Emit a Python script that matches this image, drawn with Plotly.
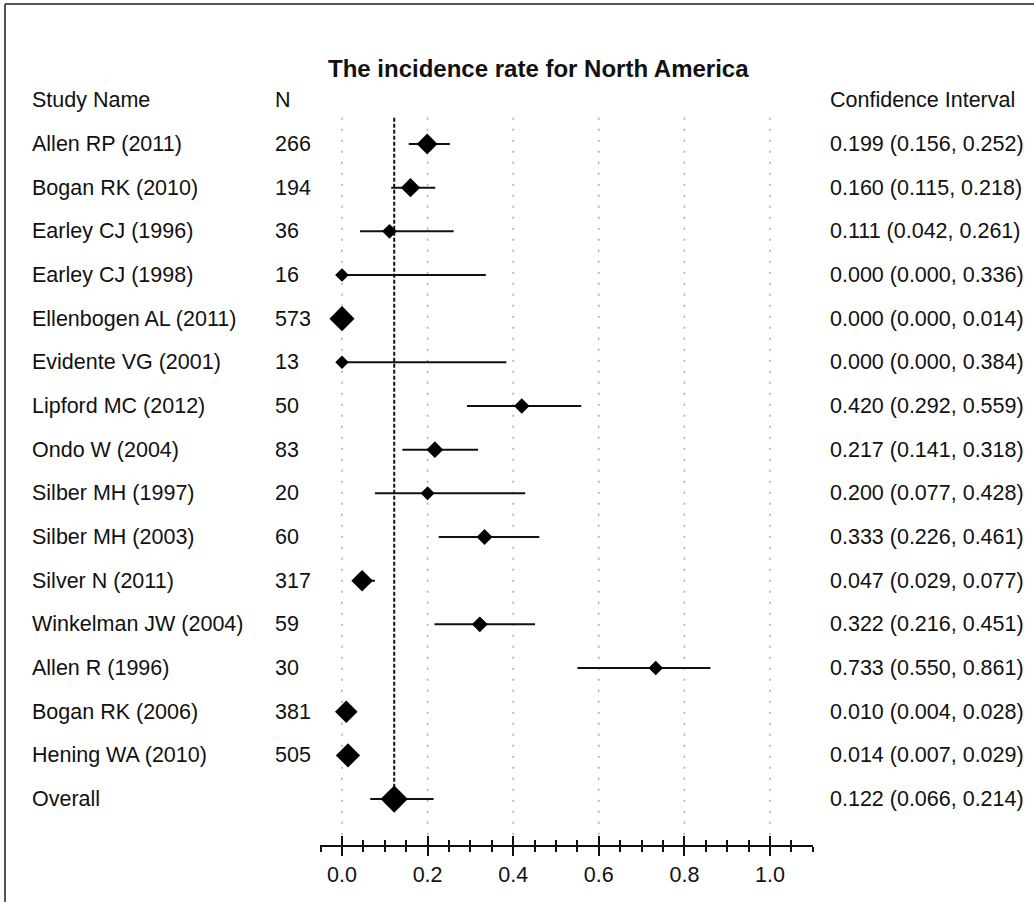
import plotly.graph_objects as go

# Study-level incidence estimates with 95% confidence limits
studies = ["Allen RP (2011)", "Bogan RK (2010)", "Earley CJ (1996)", "Earley CJ (1998)",
           "Ellenbogen AL (2011)", "Evidente VG (2001)", "Lipford MC (2012)", "Ondo W (2004)",
           "Silber MH (1997)", "Silber MH (2003)", "Silver N (2011)", "Winkelman JW (2004)",
           "Allen R (1996)", "Bogan RK (2006)", "Hening WA (2010)"]
sample_n = [266, 194, 36, 16, 573, 13, 50, 83, 20, 60, 317, 59, 30, 381, 505]
rate = [0.199, 0.160, 0.111, 0.000, 0.000, 0.000, 0.420, 0.217, 0.200, 0.333,
        0.047, 0.322, 0.733, 0.010, 0.014]
ci_low = [0.156, 0.115, 0.042, 0.000, 0.000, 0.000, 0.292, 0.141, 0.077, 0.226,
          0.029, 0.216, 0.550, 0.004, 0.007]
ci_high = [0.252, 0.218, 0.261, 0.336, 0.014, 0.384, 0.559, 0.318, 0.428, 0.461,
           0.077, 0.451, 0.861, 0.028, 0.029]

overall_label = "Overall"
overall_rate = 0.122
overall_low = 0.066
overall_high = 0.214

major_ticks = [0.0, 0.2, 0.4, 0.6, 0.8, 1.0]
major_tick_text = ["0.0", "0.2", "0.4", "0.6", "0.8", "1.0"]

title_text = "The incidence rate for North America"
header_name, header_n, header_ci = "Study Name", "N", "Confidence Interval"

FONT = "Liberation Sans, Arial, sans-serif"
W, H = 1034, 902
BODY = 21.5
INK = "#111111"

rows = list(range(len(studies)))
overall_row = len(studies)


def fmt_ci(e, lo, hi):
    return f"{e:.3f} ({lo:.3f}, {hi:.3f})"


# marker size grows with study size
sizes = [8.8 + 0.44 * (n ** 0.5) for n in sample_n]

fig = go.Figure()

# dotted reference lines at the labelled rates
gx, gy = [], []
for v in major_ticks:
    gx += [v, v, None]
    gy += [-0.6, 15.82, None]
fig.add_trace(go.Scatter(x=gx, y=gy, mode="lines", hoverinfo="skip", showlegend=False,
                         line=dict(color="#a8a8a8", width=1.5, dash="2px,9px")))

# pooled estimate reference line
fig.add_trace(go.Scatter(x=[overall_rate, overall_rate], y=[-0.6, overall_row],
                         mode="lines", hoverinfo="skip", showlegend=False,
                         line=dict(color=INK, width=2, dash="4px,2px")))

# individual studies
fig.add_trace(go.Scatter(
    x=rate, y=rows, mode="markers", showlegend=False,
    marker=dict(symbol="diamond", size=sizes, color="black", opacity=1, line=dict(width=0)),
    error_x=dict(type="data", symmetric=False,
                 array=[h - e for h, e in zip(ci_high, rate)],
                 arrayminus=[e - l for e, l in zip(rate, ci_low)],
                 color=INK, thickness=2, width=0),
))

# pooled estimate
fig.add_trace(go.Scatter(
    x=[overall_rate], y=[overall_row], mode="markers", showlegend=False,
    marker=dict(symbol="diamond", size=21, color="black", opacity=1, line=dict(width=0)),
    error_x=dict(type="data", symmetric=False,
                 array=[overall_high - overall_rate],
                 arrayminus=[overall_rate - overall_low],
                 color=INK, thickness=2, width=0),
))

# placeholder so the inward-tick overlay axis is drawn
fig.add_trace(go.Scatter(x=[None], y=[None], xaxis="x2", showlegend=False, hoverinfo="skip"))

# text columns
ann = []
names_all = studies + [overall_label]
n_all = [str(n) for n in sample_n] + [""]
ci_all = [fmt_ci(e, l, h) for e, l, h in zip(rate, ci_low, ci_high)] + \
         [fmt_ci(overall_rate, overall_low, overall_high)]
for i, (nm, nn, ci) in enumerate(zip(names_all, n_all, ci_all)):
    ann.append(dict(x=30 / W, y=i, xref="paper", yref="y", text=nm, showarrow=False,
                    xanchor="left", yanchor="middle", font=dict(size=BODY, color=INK)))
    if nn:
        ann.append(dict(x=273 / W, y=i, xref="paper", yref="y", text=nn, showarrow=False,
                        xanchor="left", yanchor="middle", font=dict(size=BODY, color=INK)))
    ann.append(dict(x=828 / W, y=i, xref="paper", yref="y", text=ci, showarrow=False,
                    xanchor="left", yanchor="middle", font=dict(size=BODY, color=INK)))

for txt, xp in [(header_name, 30), (header_n, 273), (header_ci, 828)]:
    ann.append(dict(x=xp / W, y=-1, xref="paper", yref="y", text=txt, showarrow=False,
                    xanchor="left", yanchor="middle", font=dict(size=BODY, color=INK)))

ann.append(dict(x=538 / W, y=-1.74, xref="paper", yref="y", text=f"<b>{title_text}</b>",
                showarrow=False, xanchor="center", yanchor="middle",
                font=dict(size=24, color=INK)))

# pixel layout of the rate scale: 0 -> 342px, 1 -> 770px
x0px, unit = 342.0, 428.0
xr = [-0.0505, 1.1005]
xdom = [(x0px + unit * xr[0]) / W, (x0px + unit * xr[1]) / W]

axis_px = 845.0
row0_px, row_step = 144.0, 43.67
yr = [(axis_px - row0_px) / row_step, (0 - row0_px) / row_step]
ydom = [(H - axis_px) / H, 1.0]

common_x = dict(domain=xdom, range=xr, tickvals=major_ticks, showgrid=False, zeroline=False,
                anchor="y", fixedrange=True)

fig.update_layout(
    width=W, height=H,
    margin=dict(l=0, r=0, t=0, b=0),
    paper_bgcolor="white", plot_bgcolor="white",
    font=dict(family=FONT, color=INK, size=BODY),
    xaxis=dict(**common_x, ticktext=major_tick_text, showline=True, linecolor=INK, linewidth=2,
               ticks="outside", ticklen=9, tickwidth=2, tickcolor=INK,
               ticklabelstandoff=0, tickfont=dict(size=BODY, color=INK),
               minor=dict(dtick=0.05, tick0=0, ticks="outside", ticklen=5, tickwidth=1.5,
                          tickcolor=INK, showgrid=False)),
    xaxis2=dict(**common_x, overlaying="x", side="bottom", showline=False,
                showticklabels=False, ticks="inside", ticklen=9, tickwidth=2, tickcolor=INK,
                minor=dict(dtick=0.05, tick0=0, ticks="inside", ticklen=5, tickwidth=1.5,
                           tickcolor=INK, showgrid=False)),
    yaxis=dict(domain=ydom, range=yr, visible=False, fixedrange=True),
    annotations=ann,
    shapes=[
        dict(type="line", xref="paper", yref="paper", x0=5 / W, x1=1, y0=1 - 4 / H, y1=1 - 4 / H,
             line=dict(color="#555555", width=2)),
        dict(type="line", xref="paper", yref="paper", x0=5 / W, x1=5 / W, y0=0, y1=1 - 4 / H,
             line=dict(color="#555555", width=2)),
    ],
)

fig.write_html("out.html")
